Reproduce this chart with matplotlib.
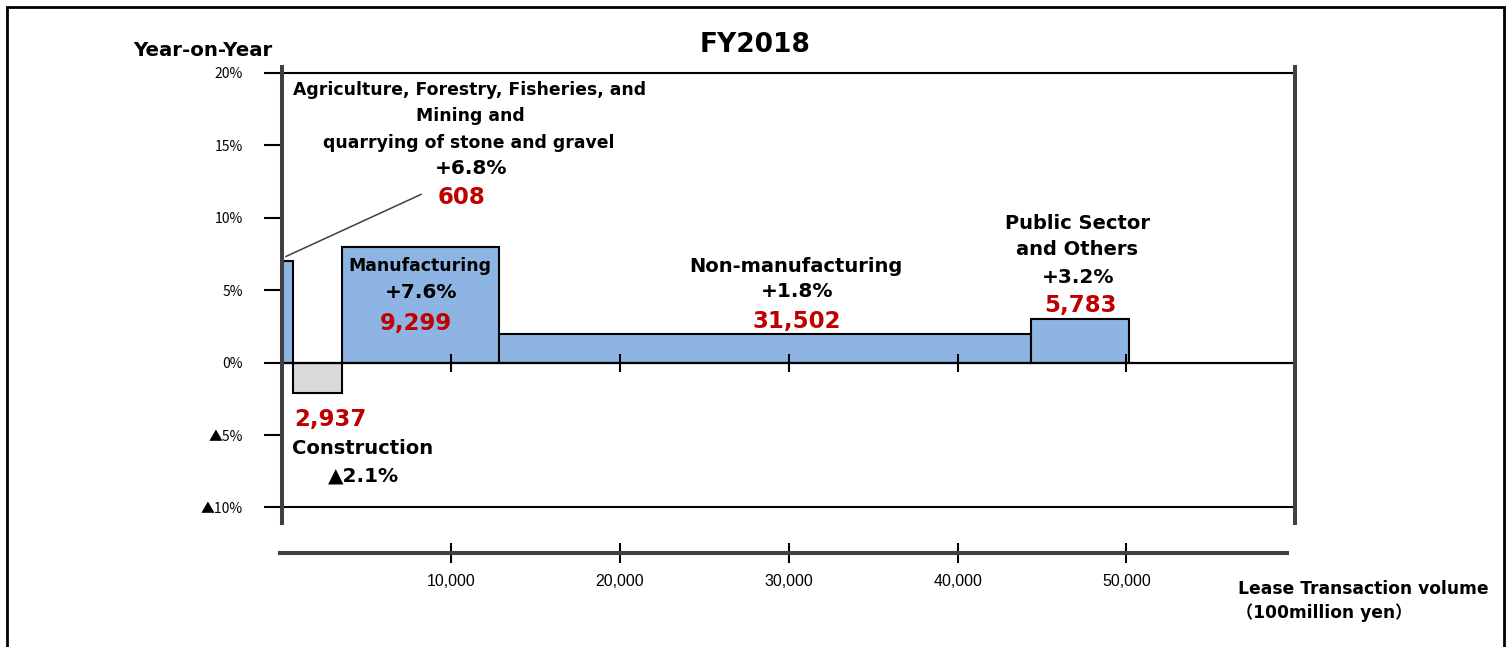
import matplotlib
matplotlib.use("Agg")
import matplotlib.pyplot as plt
from matplotlib.patches import Rectangle
import numpy as np

# ---------------- data ----------------
categories = ["Agriculture, Forestry, Fisheries, and Mining and quarrying of stone and gravel",
              "Construction", "Manufacturing", "Non-manufacturing", "Public Sector and Others"]
volumes = [608, 2937, 9299, 31502, 5783]            # bar widths (100 million yen)
bar_heights = [7.0, -2.1, 8.0, 2.0, 3.0]             # heights as drawn (%)
yoy_labels = ["+6.8%", "▲2.1%", "+7.6%", "+1.8%", "+3.2%"]
volume_labels = ["608", "2,937", "9,299", "31,502", "5,783"]
bar_colors = ["#8DB4E2", "#D9D9D9", "#8DB4E2", "#8DB4E2", "#8DB4E2"]
x_ticks = [10000, 20000, 30000, 40000, 50000]
x_ticklabels = ["10,000", "20,000", "30,000", "40,000", "50,000"]
y_ticks = [-10, -5, 0, 5, 10, 15, 20]
y_ticklabels = ["▲10%", "▲5%", "0%", "5%", "10%", "15%", "20%"]

RED = "#C00000"
GRAY = "#404040"
BOLD = dict(family=["DejaVu Sans"], fontweight="bold", color="black")

W, H = 1506, 647
fig = plt.figure(figsize=(W / 100, H / 100), dpi=100)
fig.patch.set_facecolor("white")

# main axes (pixel geometry)
L, R, T, B = 282.3, 1295.3, 67.3, 522.7
ax = fig.add_axes([L / W, 1 - B / H, (R - L) / W, (B - T) / H])
ax.set_xlim(0, 60000)
ax.set_ylim(-11.05, 20.37)

lefts = np.concatenate([[0], np.cumsum(volumes)[:-1]])
ax.bar(lefts, bar_heights, width=volumes, align="edge", color=bar_colors,
       edgecolor="black", linewidth=1.5, zorder=2)

for s in ["top", "bottom"]:
    ax.spines[s].set_visible(False)
for s in ["left", "right"]:
    ax.spines[s].set_color(GRAY)
    ax.spines[s].set_linewidth(2.9)
    ax.spines[s].set_zorder(5)

ax.axhline(20, color="black", lw=1.5, zorder=3)
ax.axhline(-10, color="black", lw=1.5, zorder=3)
ax.axhline(0, color="black", lw=1.6, zorder=3)

ax.set_yticks(y_ticks)
ax.set_yticklabels(y_ticklabels, family=["Noto Sans CJK JP", "DejaVu Sans"], fontsize=10)
ax.tick_params(axis="y", direction="out", length=13.2, width=1.5, color="black", pad=15)
ax.set_xticks([])
# tick marks crossing the zero line
ax.plot(x_ticks, [0] * len(x_ticks), ls="none", marker="|", ms=12.5, mew=1.5,
        color="black", zorder=4, clip_on=False)

# leader line for the first (narrow) category
ax.plot([219, 8217], [7.32, 11.6], color=GRAY, lw=1.1, zorder=3)

# ---------------- bottom x axis ----------------
yb = 553
ax2 = fig.add_axes([L / W, 1 - yb / H, (R - L) / W, 0.02])
ax2.set_xlim(0, 60000)
ax2.patch.set_visible(False)
for s in ["top", "left", "right"]:
    ax2.spines[s].set_visible(False)
ax2.spines["bottom"].set_color(GRAY)
ax2.spines["bottom"].set_linewidth(2.9)
ax2.spines["bottom"].set_bounds(-130, 59500)
ax2.set_yticks([])
ax2.set_xticks(x_ticks)
ax2.set_xticklabels(x_ticklabels, family=["Liberation Sans", "DejaVu Sans"], fontsize=11.5)
ax2.tick_params(axis="x", direction="inout", length=14.4, width=1.5, color="black", pad=8)

# ---------------- text ----------------
def fx(px):
    return (px - L) * 60000 / (R - L)

def fy(py):
    return (363 - py) / 14.48

def put(px, py, s, size, color="black", ha="center"):
    ax.text(fx(px), fy(py), s, ha=ha, va="baseline", fontsize=size,
            family=["DejaVu Sans"], fontweight="bold", color=color, zorder=6)

# Agriculture etc.
put(469.5, 95.6, "Agriculture, Forestry, Fisheries, and", 12.4)
put(470, 121.7, "Mining and", 12.4)
put(469, 148.3, "quarrying of stone and gravel", 12.4)
put(471, 175, yoy_labels[0], 14.5)
put(461.5, 204.5, volume_labels[0], 16.5, RED)
# Manufacturing
put(419.8, 271.7, "Manufacturing", 12.4)
put(421, 298.3, yoy_labels[2], 14.5)
put(416.3, 330, volume_labels[2], 16.5, RED)
# Non-manufacturing
put(796.3, 272.3, "Non-manufacturing", 14)
put(797, 297.3, yoy_labels[3], 14.5)
put(796.5, 328.3, volume_labels[3], 16.5, RED)
# Public sector
put(1077.3, 230, "Public Sector", 14)
put(1077, 255.7, "and Others", 14)
put(1078, 283.3, yoy_labels[4], 14.5)
put(1080, 312.7, volume_labels[4], 16.5, RED)
# Construction
put(330, 426.7, volume_labels[1], 16.5, RED)
put(362.5, 454.3, "Construction", 14)
put(363.7, 481.7, yoy_labels[1], 14.5)

# titles
fig.text(755 / W, 1 - 45 / H, "FY2018", ha="center", va="center", fontsize=19, **BOLD)
fig.text(203 / W, 1 - 51 / H, "Year-on-Year", ha="center", va="center", fontsize=14.2, **BOLD)
fig.text(1238 / W, 1 - 594 / H, "Lease Transaction volume", ha="left", va="baseline",
         fontsize=12.3, fontweight="bold", family=["DejaVu Sans", "Noto Sans CJK JP"])
fig.text(1236 / W, 1 - 618 / H, "（100million yen）", ha="left", va="baseline",
         fontsize=12.3, fontweight="bold", family=["DejaVu Sans", "Noto Sans CJK JP"])

# outer frame
fig.add_artist(Rectangle((7 / W, -0.1), (1504 - 7) / W, 1.1 - 6.5 / H,
                         transform=fig.transFigure, fill=False, lw=2, ec="black"))

fig.savefig("out.png", dpi=100, facecolor="white")
